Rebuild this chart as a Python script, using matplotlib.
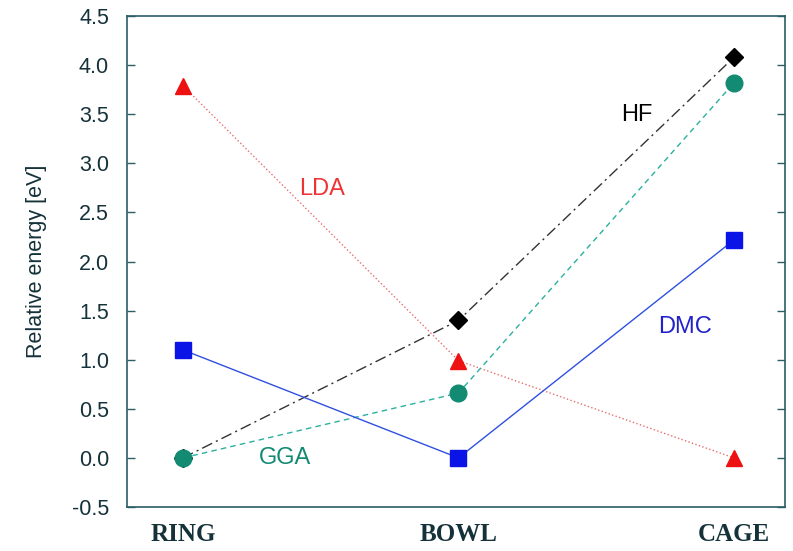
import matplotlib
matplotlib.use("Agg")
import matplotlib.pyplot as plt

structures = ["RING", "BOWL", "CAGE"]
hf = [0.0, 1.40, 4.08]
gga = [0.0, 0.66, 3.82]
lda = [3.79, 0.99, 0.0]
dmc = [1.10, 0.0, 2.22]
yticks = [-0.5, 0.0, 0.5, 1.0, 1.5, 2.0, 2.5, 3.0, 3.5, 4.0, 4.5]

axis_col = "#2b5e66"
text_col = "#15323a"

fig = plt.figure(figsize=(7.93, 5.51), dpi=100)
ax = fig.add_axes([127 / 793, 44 / 551, 658 / 793, 491 / 551])

x = range(len(structures))
ax.plot(x, lda, color="#e03030", ls=":", lw=1.0, alpha=0.7)
ax.plot(x, hf, color="#333333", ls=(0, (8, 3, 1.5, 3)), lw=1.0)
ax.plot(x, gga, color="#2ab0a0", ls=(0, (4, 3)), lw=1.0)
ax.plot(x, dmc, color="#3050e0", ls="-", lw=1.0)

ax.plot(x, lda, ls="none", marker="^", ms=11, color="#ee1111")
ax.plot(x, hf, ls="none", marker="D", ms=9, color="black")
ax.plot(x, gga, ls="none", marker="o", ms=12, color="#138a72")
ax.plot(x, dmc, ls="none", marker="s", ms=11, color="#0a14e6")

lab = dict(fontsize=17, family="Liberation Sans", ha="left", va="center")
ax.text(0.42, 2.74, "LDA", color="#ee3333", **lab)
ax.text(1.59, 3.49, "HF", color="black", **lab)
ax.text(1.725, 1.33, "DMC", color="#2222cc", **lab)
ax.text(0.275, 0.0, "GGA", color="#138a72", **lab)

ax.set_xlim(-0.203, 2.185)
ax.set_ylim(-0.5, 4.5)
ax.set_xticks([])
ax.set_yticks(yticks)
ax.set_yticklabels([f"{t:.1f}" for t in yticks], fontsize=15.5,
                   family="Liberation Sans", color=text_col)
ax.tick_params(axis="y", direction="in", length=6, width=1, color=axis_col,
               right=True, pad=13)
for s in ax.spines.values():
    s.set_color(axis_col)
    s.set_linewidth(1.2)

ax.set_ylabel("Relative energy [eV]", fontsize=15.5, family="Liberation Sans",
              color=text_col, labelpad=18)

for i, name in enumerate(structures):
    ax.text(i, -0.66, name, ha="center", va="top", fontsize=18,
            fontweight="bold", family="Liberation Serif", color=text_col)

fig.savefig("out.png", dpi=100)
